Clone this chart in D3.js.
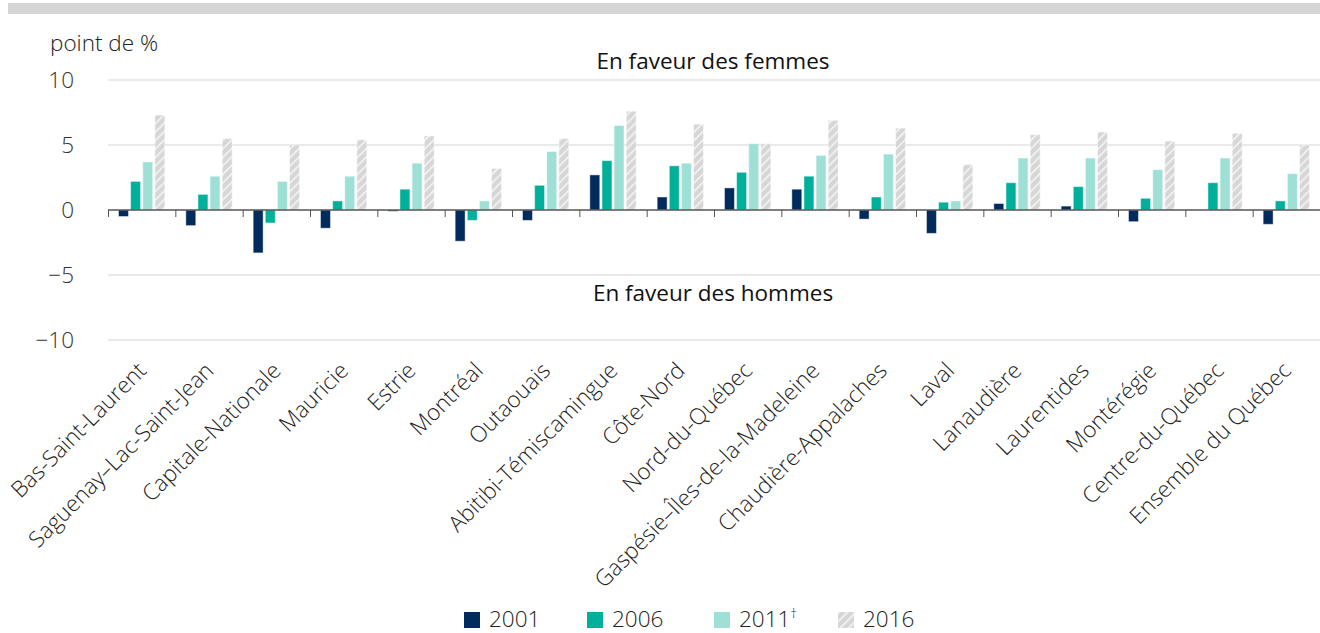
<!DOCTYPE html>
<html>
<head>
<meta charset="utf-8">
<script src="https://cdn.jsdelivr.net/npm/d3@7"></script>
<style>
  body { margin: 0; background: #fff; }
  svg text { font-family: "Open Sans", sans-serif; }
</style>
</head>
<body>
<div id="elements"></div>
<script>
'use strict';

var categories = ["Bas-Saint-Laurent", "Saguenay–Lac-Saint-Jean", "Capitale-Nationale", "Mauricie", "Estrie",
    "Montréal", "Outaouais", "Abitibi-Témiscamingue", "Côte-Nord", "Nord-du-Québec",
    "Gaspésie–Îles-de-la-Madeleine", "Chaudière-Appalaches", "Laval", "Lanaudière", "Laurentides",
    "Montérégie", "Centre-du-Québec", "Ensemble du Québec"];
var years = ["2001", "2006", "2011", "2016"];
var values2001 = [-0.5, -1.2, -3.3, -1.4, -0.1, -2.4, -0.8, 2.7, 1.0, 1.7, 1.6, -0.7, -1.8, 0.5, 0.3, -0.9, 0, -1.1];
var values2006 = [2.2, 1.2, -1.0, 0.7, 1.6, -0.8, 1.9, 3.8, 3.4, 2.9, 2.6, 1.0, 0.6, 2.1, 1.8, 0.9, 2.1, 0.7];
var values2011 = [3.7, 2.6, 2.2, 2.6, 3.6, 0.7, 4.5, 6.5, 3.6, 5.1, 4.2, 4.3, 0.7, 4.0, 4.0, 3.1, 4.0, 2.8];
var values2016 = [7.3, 5.5, 5.0, 5.4, 5.7, 3.2, 5.5, 7.6, 6.6, 5.1, 6.9, 6.3, 3.5, 5.8, 6.0, 5.3, 5.9, 5.0];
var yTicks = [-10, -5, 0, 5, 10];

var series = [values2001, values2006, values2011, values2016];
var colors = ["#002b5c", "#00b09b", "#9ee0d6", "url(#hatch)"];

var width = 1320, height = 633;
var fontSize = "22.5px";
var svg = d3.select("#elements").append("svg")
    .attr("width", width)
    .attr("height", height);

// hatch pattern for 2016
var pattern = svg.append("defs").append("pattern")
    .attr("id", "hatch")
    .attr("patternUnits", "userSpaceOnUse")
    .attr("width", 6)
    .attr("height", 6)
    .attr("patternTransform", "rotate(45)");
pattern.append("rect").attr("width", 6).attr("height", 6).attr("fill", "#d6d6d6");
pattern.append("rect").attr("x", 0).attr("width", 1.6).attr("height", 6).attr("fill", "#f4f4f4");

// top grey band
svg.append("rect")
    .attr("x", 8).attr("y", 3)
    .attr("width", width - 8).attr("height", 11)
    .attr("fill", "#d5d6d5");

var left = 108, right = 1320;
var x0 = d3.scaleBand()
    .domain(d3.range(categories.length))
    .range([left, right]);
var x1 = d3.scaleBand()
    .domain(years)
    .range([10.5, x0.bandwidth() - 10.5])
    .paddingInner(0.18);
var y = d3.scaleLinear()
    .domain([-10, 10])
    .range([340, 80]);

// gridlines
svg.append("g")
    .selectAll("line")
    .data(yTicks.filter(function(t) { return t != 0; }))
    .enter().append("line")
        .attr("x1", left).attr("x2", right)
        .attr("y1", function(d) { return y(d); })
        .attr("y2", function(d) { return y(d); })
        .attr("stroke", "#e3e3e3")
        .attr("stroke-width", 1.5);

// y tick labels
svg.append("g")
    .selectAll("text")
    .data(yTicks)
    .enter().append("text")
        .attr("x", 74)
        .attr("y", function(d) { return y(d) + 8; })
        .attr("text-anchor", "end")
        .style("font-size", fontSize)
        .style("font-weight", "300")
        .attr("fill", "#333")
        .text(function(d) { return d < 0 ? "\u2212" + Math.abs(d) : d; });

svg.append("text")
    .attr("x", 50).attr("y", 51)
    .style("font-size", fontSize)
    .style("font-weight", "300")
    .attr("fill", "#222")
    .text("point de %");

svg.append("text")
    .attr("x", 713).attr("y", 69)
    .attr("text-anchor", "middle")
    .style("font-size", fontSize)
    .attr("fill", "#111")
    .text("En faveur des femmes");

svg.append("text")
    .attr("x", 713).attr("y", 301)
    .attr("text-anchor", "middle")
    .style("font-size", fontSize)
    .attr("fill", "#111")
    .text("En faveur des hommes");

// bars
var groups = svg.append("g")
    .selectAll("g")
    .data(categories)
    .enter().append("g")
        .attr("transform", function(d, i) { return "translate(" + x0(i) + ",0)"; });

groups.selectAll("rect")
    .data(function(d, i) {
        return years.map(function(yr, k) { return {key: yr, value: series[k][i], k: k}; });
    })
    .enter().append("rect")
        .attr("x", function(d) { return x1(d.key); })
        .attr("width", x1.bandwidth())
        .attr("y", function(d) { return Math.min(y(d.value), y(0)); })
        .attr("height", function(d) { return Math.abs(y(d.value) - y(0)); })
        .attr("fill", function(d) { return colors[d.k]; })
        .attr("stroke", "#ffffff")
        .attr("stroke-opacity", 0.45)
        .attr("stroke-width", 1);

// zero axis with ticks
var axis = svg.append("g")
    .attr("transform", "translate(0," + y(0) + ")");
axis.append("line")
    .attr("x1", left).attr("x2", right)
    .attr("stroke", "#555")
    .attr("stroke-width", 1.5);
axis.selectAll(".tick")
    .data(d3.range(categories.length))
    .enter().append("line")
        .attr("class", "tick")
        .attr("x1", function(d) { return x0(d) + 0.5; })
        .attr("x2", function(d) { return x0(d) + 0.5; })
        .attr("y1", 0).attr("y2", 7)
        .attr("stroke", "#555")
        .attr("stroke-width", 1);

// category labels
svg.append("g")
    .selectAll("text")
    .data(categories)
    .enter().append("text")
        .attr("transform", function(d, i) {
            return "translate(" + (x0(i) + x0.bandwidth() / 2 + 6) + ",372) rotate(-45)";
        })
        .attr("text-anchor", "end")
        .style("font-size", fontSize)
        .style("font-weight", "300")
        .attr("fill", "#222")
        .text(function(d) { return d; });

// legend
var legendX = [464, 587, 714, 838];
var legendText = ["2001", "2006", "2011", "2016"];
var legend = svg.append("g")
    .selectAll("g")
    .data(legendText)
    .enter().append("g")
        .attr("transform", function(d, i) { return "translate(" + legendX[i] + ",612)"; });
legend.append("rect")
    .attr("width", 16).attr("height", 16)
    .attr("fill", function(d, i) { return colors[i]; });
var lt = legend.append("text")
    .attr("x", 25).attr("y", 15)
    .style("font-size", fontSize)
    .style("font-weight", "300")
    .attr("fill", "#222")
    .text(function(d) { return d; });
lt.filter(function(d) { return d == "2011"; })
    .append("tspan")
    .attr("dy", -9)
    .style("font-size", "13px")
    .text("\u2020");
</script>
</body>
</html>
